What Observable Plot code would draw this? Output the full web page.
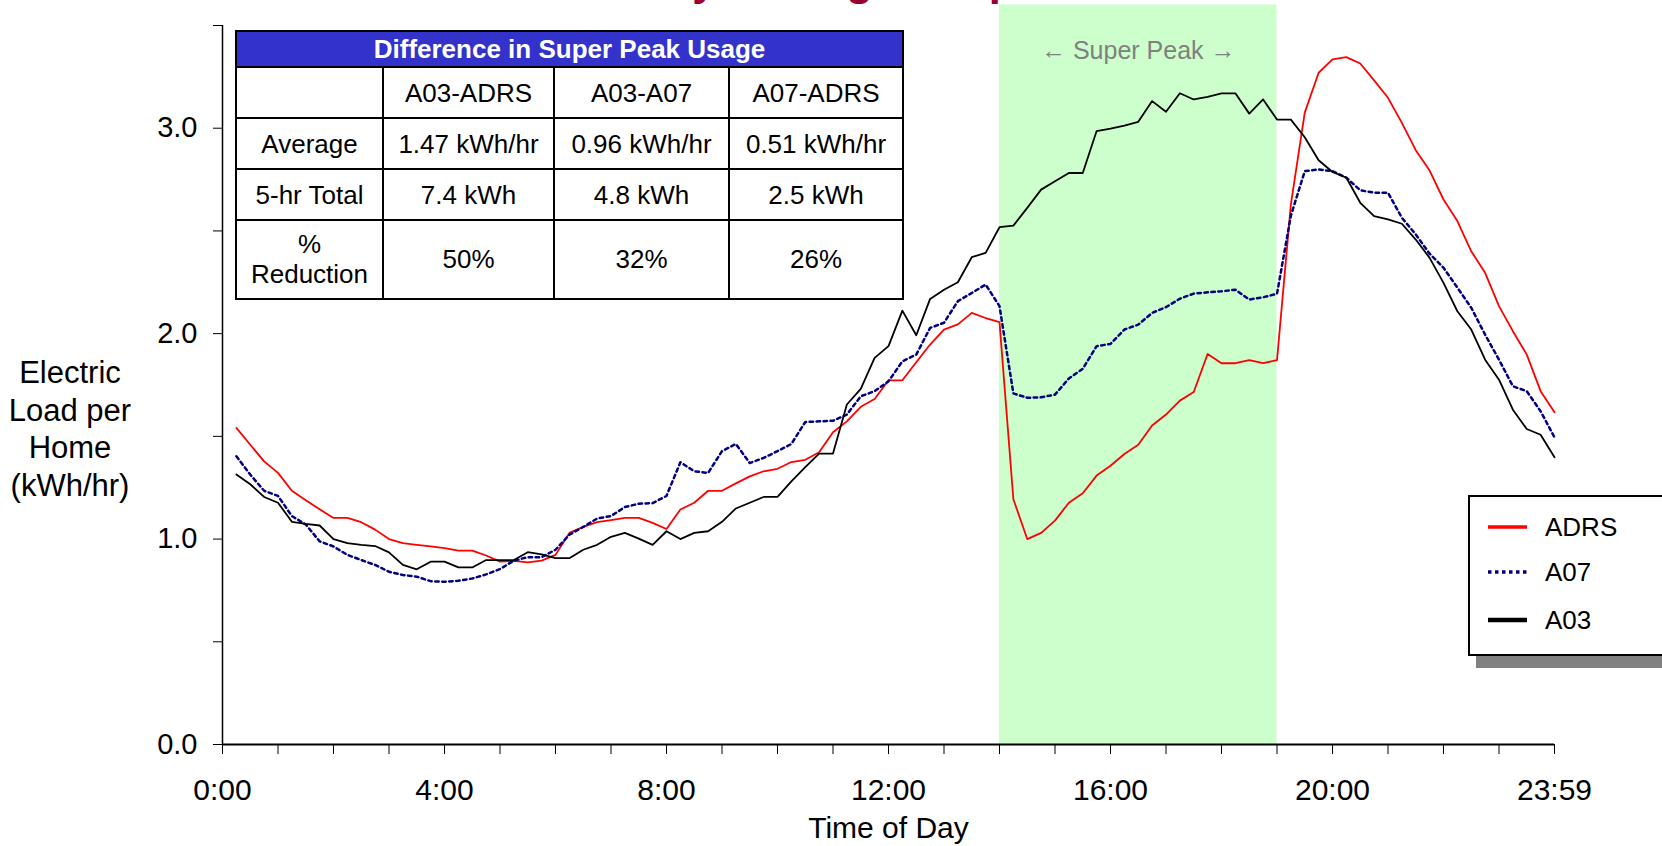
<!DOCTYPE html>
<html>
<head>
<meta charset="utf-8">
<script src="https://cdn.jsdelivr.net/npm/d3@7"></script>
<script src="https://cdn.jsdelivr.net/npm/@observablehq/plot@0.6"></script>
<style>
  html, body { margin: 0; padding: 0; background: #fff; }
  body { width: 1662px; height: 846px; position: relative; overflow: hidden;
         font-family: "Liberation Sans", Arial, sans-serif; }
  #chart { position: absolute; left: 0; top: 0; }
  #overlay { position: absolute; left: 0; top: 0; pointer-events: none; }
  #ylabel { position: absolute; left: 0; top: 354px; width: 140px; text-align: center;
            font-size: 31px; line-height: 37.6px; color: #000; }
  table.diff { position: absolute; left: 235px; top: 30px; border-collapse: collapse;
               table-layout: fixed; width: 667px; font-size: 26px; color: #000; background: #fff; }
  table.diff td, table.diff th { border: 2px solid #000; text-align: center; padding: 0; line-height: 30px; }
  table.diff th { background: #3333CC; color: #fff; font-weight: bold; height: 34px; }
</style>
</head>
<body>
<div id="chart"></div>
<div id="ylabel"></div>
<table class="diff" id="diff"></table>
<svg id="overlay" width="1662" height="846"></svg>
<script>
// ---------------- data ----------------
const seriesNames = ["ADRS", "A07", "A03"];
// 15-minute intervals, 0:15 ... 24:00 (hours)
const times = d3.range(1, 97).map(i => i / 4);

const adrs = [
  1.541, 1.459, 1.378, 1.322, 1.235, 1.189, 1.145, 1.103, 1.103, 1.082, 1.046, 1.000,
  0.980, 0.972, 0.964, 0.956, 0.944, 0.944, 0.920, 0.890, 0.894, 0.887, 0.895, 0.923,
  1.030, 1.059, 1.082, 1.092, 1.103, 1.103, 1.079, 1.049, 1.144, 1.177, 1.235, 1.235,
  1.271, 1.305, 1.330, 1.342, 1.375, 1.386, 1.423, 1.520, 1.573, 1.644, 1.682, 1.773,
  1.773, 1.861, 1.947, 2.020, 2.045, 2.101, 2.076, 2.056, 1.194, 1.000, 1.030, 1.090,
  1.177, 1.223, 1.309, 1.357, 1.414, 1.459, 1.553, 1.606, 1.674, 1.716, 1.901, 1.856,
  1.856, 1.871, 1.856, 1.871, 2.629, 3.076, 3.270, 3.335, 3.346, 3.315, 3.233, 3.148,
  3.026, 2.893, 2.794, 2.653, 2.548, 2.401, 2.296, 2.134, 2.012, 1.898, 1.720, 1.617
];
const a07 = [
  1.403, 1.314, 1.235, 1.210, 1.112, 1.071, 0.989, 0.964, 0.923, 0.898, 0.874, 0.841,
  0.825, 0.817, 0.795, 0.792, 0.797, 0.808, 0.828, 0.854, 0.895, 0.912, 0.912, 0.948,
  1.021, 1.059, 1.100, 1.112, 1.156, 1.172, 1.175, 1.210, 1.374, 1.330, 1.322, 1.428,
  1.463, 1.370, 1.395, 1.428, 1.463, 1.570, 1.573, 1.576, 1.606, 1.695, 1.720, 1.768,
  1.865, 1.898, 2.028, 2.053, 2.158, 2.198, 2.239, 2.134, 1.709, 1.688, 1.690, 1.703,
  1.782, 1.829, 1.939, 1.950, 2.020, 2.044, 2.101, 2.129, 2.170, 2.195, 2.201, 2.206,
  2.214, 2.166, 2.177, 2.194, 2.574, 2.791, 2.799, 2.791, 2.759, 2.698, 2.686, 2.686,
  2.564, 2.483, 2.389, 2.321, 2.224, 2.126, 1.995, 1.873, 1.744, 1.720, 1.622, 1.495
];
const a03 = [
  1.314, 1.267, 1.205, 1.177, 1.084, 1.074, 1.066, 1.000, 0.980, 0.972, 0.966, 0.935,
  0.874, 0.853, 0.890, 0.890, 0.862, 0.862, 0.898, 0.898, 0.898, 0.936, 0.926, 0.907,
  0.907, 0.948, 0.972, 1.011, 1.030, 1.002, 0.972, 1.038, 1.000, 1.030, 1.038, 1.084,
  1.149, 1.177, 1.205, 1.205, 1.281, 1.350, 1.416, 1.416, 1.655, 1.731, 1.882, 1.939,
  2.112, 1.992, 2.169, 2.214, 2.250, 2.372, 2.393, 2.518, 2.526, 2.612, 2.701, 2.742,
  2.782, 2.782, 2.986, 2.998, 3.013, 3.031, 3.132, 3.080, 3.170, 3.140, 3.153, 3.170,
  3.170, 3.071, 3.140, 3.042, 3.042, 2.956, 2.844, 2.787, 2.759, 2.637, 2.572, 2.556,
  2.535, 2.458, 2.369, 2.247, 2.109, 2.020, 1.873, 1.776, 1.630, 1.536, 1.508, 1.398
];

const superPeak = { start: 14, end: 19, label: "\u2190 Super Peak \u2192" };
const bandTop = 3.6;   // shaded period reaches into the title area

const xTickHours  = d3.range(0, 25, 1);
const xLabelHours = [0, 4, 8, 12, 16, 20, 24];
const xLabels     = ["0:00", "4:00", "8:00", "12:00", "16:00", "20:00", "23:59"];
const yTicks      = d3.range(0, 3.51, 0.5);
const yLabelTicks = [0, 1, 2, 3];

const titleText   = "Hot Day Average Shape";
const yTitleLines = ["Electric", "Load per", "Home", "(kWh/hr)"];
const xTitle      = "Time of Day";

const tableTitle  = "Difference in Super Peak Usage";
const tableCols   = ["", "A03-ADRS", "A03-A07", "A07-ADRS"];
const tableRows   = [
  ["Average", "1.47 kWh/hr", "0.96 kWh/hr", "0.51 kWh/hr"],
  ["5-hr Total", "7.4 kWh", "4.8 kWh", "2.5 kWh"],
  ["%<br>Reduction", "50%", "32%", "26%"]
];

// ---------------- styles ----------------
const styles = {
  ADRS: { stroke: "#FF0000", strokeWidth: 1.8, dash: null },
  A07:  { stroke: "#000080", strokeWidth: 2.5, dash: "3.5,3.5" },
  A03:  { stroke: "#000000", strokeWidth: 1.8, dash: null }
};
const valuesByName = { ADRS: adrs, A07: a07, A03: a03 };

const lineMarks = seriesNames.map(name => {
  const vals = valuesByName[name];
  const rows = times.map((t, i) => ({ t, v: vals[i] }));
  const s = styles[name];
  return Plot.line(rows, {
    x: "t", y: "v", stroke: s.stroke, strokeWidth: s.strokeWidth,
    strokeDasharray: s.dash ?? undefined, strokeLinejoin: "round"
  });
});

const labelFor = new Map(xLabelHours.map((h, i) => [h, xLabels[i]]));

const chart = Plot.plot({
  width: 1662,
  height: 846,
  marginLeft: 222,
  marginRight: 108,
  marginTop: 25,
  marginBottom: 102,
  x: { domain: [0, 24] },
  y: { domain: [0, 3.5] },
  style: { fontFamily: "'Liberation Sans', Arial, sans-serif", background: "transparent", overflow: "visible", color: "#000" },
  marks: [
    Plot.rect([superPeak], { x1: "start", x2: "end", y1: 0, y2: bandTop, fill: "#CCFFCC" }),
    Plot.text([superPeak], { x: d => (d.start + d.end) / 2, frameAnchor: "top", lineAnchor: "middle", dy: 25,
      text: "label", fill: "#808080", fontSize: 25 }),
    ...lineMarks,
    Plot.ruleX([0], { y1: 0, y2: 3.5, stroke: "#000", strokeWidth: 1.5 }),
    Plot.ruleY([0], { stroke: "#000", strokeWidth: 2 }),
    Plot.axisY({ ticks: yTicks, tickFormat: d => yLabelTicks.includes(d) ? d.toFixed(1) : "",
      tickSize: 9, tickPadding: 16, fontSize: 29, label: null }),
    Plot.axisX({ ticks: xTickHours, tickFormat: d => labelFor.get(d) ?? "",
      tickSize: 10, tickPadding: 24, fontSize: 30, label: null }),
    Plot.text([xTitle], { frameAnchor: "bottom", lineAnchor: "middle", dy: 84, text: d => d, fontSize: 30 })
  ]
});
document.getElementById("chart").appendChild(chart);

// y-axis title
document.getElementById("ylabel").innerHTML = yTitleLines.join("<br>");

// table
const tbl = d3.select("#diff");
const colW = [147, 171, 175, 174];
const cg = tbl.append("colgroup");
colW.forEach(w => cg.append("col").style("width", w + "px"));
tbl.append("tr").append("th").attr("colspan", 4).text(tableTitle);
const hr = tbl.append("tr");
tableCols.forEach(c => hr.append("td").style("height", "49px").text(c));
const rowH = [49, 49, 76.5];
tableRows.forEach((r, ri) => {
  const tr = tbl.append("tr");
  r.forEach(c => tr.append("td").style("height", rowH[ri] + "px").html(c));
});

// overlay: cut-off title + legend
const ov = d3.select("#overlay");
ov.append("text").attr("x", 552).attr("y", -5)
  .attr("font-family", "'Liberation Sans', Arial, sans-serif")
  .attr("font-weight", "bold").attr("font-size", 43.5).attr("fill", "#990033")
  .text(titleText);

const lg = ov.append("g");
lg.append("rect").attr("x", 1476).attr("y", 507).attr("width", 240).attr("height", 161).attr("fill", "#808080");
lg.append("rect").attr("x", 1469).attr("y", 496).attr("width", 240).attr("height", 159)
  .attr("fill", "#fff").attr("stroke", "#000").attr("stroke-width", 2);
const legendY = [527, 572, 620];
seriesNames.forEach((name, i) => {
  const s = styles[name];
  lg.append("line").attr("x1", 1488).attr("x2", 1527).attr("y1", legendY[i]).attr("y2", legendY[i])
    .attr("stroke", s.stroke).attr("stroke-width", name === "A07" ? 3.5 : (name === "A03" ? 4.5 : 3.7))
    .attr("stroke-dasharray", name === "A07" ? "3.5,3.5" : null);
  lg.append("text").attr("x", 1545).attr("y", legendY[i]).attr("dy", "0.35em")
    .attr("font-family", "'Liberation Sans', Arial, sans-serif").attr("font-size", 26)
    .attr("fill", "#000").text(name);
});
</script>
</body>
</html>
